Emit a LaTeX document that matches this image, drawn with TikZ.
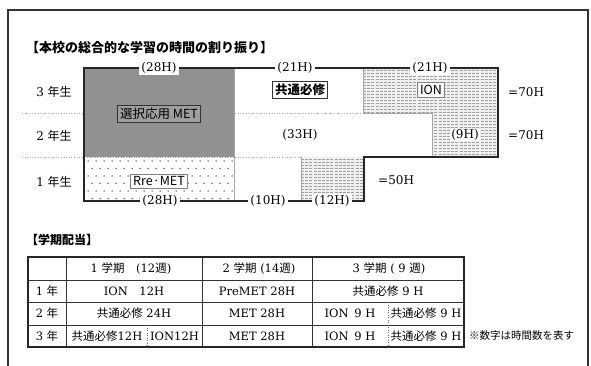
\documentclass[tikz,border=0pt]{standalone}
\usepackage{fontspec}
\setmainfont{DejaVu Serif}
\newfontfamily\jp{Noto Sans CJK JP}
\newcommand\J[1]{{\jp #1}}
\tikzset{
  outl/.style={line width=1.4pt, black!85},
  thin/.style={line width=0.4pt, gray!70},
  sep/.style={line width=0.6pt, gray!70, dotted},
  lbl/.style={fill=white, inner sep=2pt, font=\fontsize{12}{13}\selectfont},
  plain/.style={inner sep=1pt, font=\fontsize{12}{13}\selectfont},
  tagbox/.style={draw=black!80, line width=0.6pt, inner sep=2.5pt, font=\jp\fontsize{12.5}{13}\selectfont},
  rowlab/.style={inner sep=0pt, font=\fontsize{12}{13}\selectfont},
  cell/.style={inner sep=0pt, font=\fontsize{11.5}{12}\selectfont},
  tline/.style={line width=0.5pt, black!80},
  tdot/.style={line width=0.5pt, black!60, dotted},
}
\begin{document}
\begin{tikzpicture}[x=1pt,y=-1pt]
\useasboundingbox (0,0) rectangle (591,366);
\clip (0,0) rectangle (591,366);
\fill[white] (0,0) rectangle (591,366);
\draw[line width=1.2pt, black!80] (8,10) rectangle (588,420);

% title
\node[anchor=west, inner sep=0pt, font=\jp\bfseries\fontsize{13}{14}\selectfont] (title) at (26,48) {【本校の総合的な学習の時間の割り振り】};

% row labels
\node[rowlab] (r3) at (54,92) {3 \J{年生}};
\node[rowlab] (r2) at (54,136) {2 \J{年生}};
\node[rowlab] (r1) at (54,182) {1 \J{年生}};

% separators
\draw[sep] (22,113) -- (363,113);
\draw[sep] (22,157) -- (301,157);

% MET gray block
\fill[black!43] (84,68) rectangle (234,157);
% PreMET dotted block
\begin{scope}
\clip (84,157) rectangle (234,201);
\foreach \r in {0,2,4} \foreach \c in {0,...,19} \fill[black!70] (88+\c*8, 161+\r*7.5) circle (0.75pt);
\foreach \r in {1,3,5} \foreach \c in {0,...,19} \fill[black!70] (92+\c*8, 161+\r*7.5) circle (0.75pt);
\end{scope}
\draw[thin] (234,68) -- (234,201);

% ION hatch
\begin{scope}
\clip (363,68) -- (498,68) -- (498,157) -- (432,157) -- (432,113) -- (363,113) -- cycle;
\fill[gray!12] (363,68) rectangle (498,157);
\foreach \y in {70,73,...,157} \draw[gray!75, line width=0.5pt, dash pattern=on 3pt off 1.2pt] (363,\y) -- (498,\y);
\end{scope}
\draw[thin] (363,68) -- (363,113) -- (432,113) -- (432,157);
% 12H hatch
\begin{scope}
\clip (301,157) rectangle (364,201);
\fill[gray!12] (301,157) rectangle (364,201);
\foreach \y in {159,162,...,201} \draw[gray!75, line width=0.5pt, dash pattern=on 3pt off 1.2pt] (301,\y) -- (364,\y);
\end{scope}
\draw[thin] (301,157) -- (301,201);

% outline
\draw[outl] (84,68) -- (498,68) -- (498,157) -- (364,157) -- (364,201) -- (84,201) -- cycle;

% line labels
\node[lbl] (t28) at (159,68) {(28H)};
\node[lbl] (t21a) at (295,68) {(21H)};
\node[lbl] (t21b) at (430,68) {(21H)};
\node[lbl] (b28) at (160,201) {(28H)};
\node[lbl] (b10) at (268,201) {(10H)};
\node[lbl] (b12) at (332,201) {(12H)};
\node[plain] (m33) at (300,135) {(33H)};
\node[lbl, inner sep=1pt] (m9) at (465,135) {(9H)};
\node[plain, anchor=west] (e70a) at (507,92) {=70H};
\node[plain, anchor=west] (e70b) at (507,135) {=70H};
\node[plain, anchor=west] (e50) at (377,180) {=50H};

% boxes
\node[tagbox, fill=black!38] (met) at (159,114) {選択応用 MET};
\node[tagbox, fill=white, font=\jp\bfseries\fontsize{12.5}{13}\selectfont] (kyo) at (300,90) {共通必修};
\node[tagbox, fill=white, fill opacity=0.8, text opacity=1, draw=gray] (ion) at (431,90) {ION};
\node[tagbox, fill=white, draw=gray] (pre) at (159,181) {Rre·MET};

% table title
\node[anchor=west, inner sep=0pt, font=\jp\bfseries\fontsize{12}{13}\selectfont] (ttitle) at (26,240) {【学期配当】};

% table
\draw[tline] (66,257) -- (66,347);
\draw[tline] (202,257) -- (202,347);
\draw[tline] (312,257) -- (312,347);
\draw[tline] (28,280) -- (464,280);
\draw[tline] (28,302) -- (464,302);
\draw[tline] (28,325) -- (464,325);
\draw[tdot] (147,325) -- (147,347);
\draw[tdot] (388,302) -- (388,347);
\draw[line width=1.2pt, black!85] (28,257) rectangle (464,347);

\node[cell] (h1) at (131,268.5) {1 \J{学期　}(12\J{週})};
\node[cell] (h2) at (259,268.5) {2 \J{学期} (14\J{週})};
\node[cell] (h3) at (389,268.5) {3 \J{学期} ( 9 \J{週})};

\node[cell] (y1) at (47,291) {1 \J{年}};
\node[cell] (c11) at (134,291) {ION\quad 12H};
\node[cell] (c12) at (257,291) {PreMET 28H};
\node[cell] (c13) at (388,291) {\J{共通必修} 9 H};

\node[cell] (y2) at (47,313.5) {2 \J{年}};
\node[cell] (c21) at (134,313.5) {\J{共通必修} 24H};
\node[cell] (c22) at (257,313.5) {MET 28H};
\node[cell] (c23) at (350,313.5) {ION\enspace 9 H};
\node[cell] (c24) at (426,313.5) {\J{共通必修} 9 H};

\node[cell] (y3) at (47,336) {3 \J{年}};
\node[cell] (c31) at (107,336) {\J{共通必修}12H};
\node[cell] (c32) at (174.5,336) {ION12H};
\node[cell] (c33) at (257,336) {MET 28H};
\node[cell] (c34) at (350,336) {ION\enspace 9 H};
\node[cell] (c35) at (426,336) {\J{共通必修} 9 H};

\node[anchor=west, inner sep=0pt, font=\jp\fontsize{10.5}{11}\selectfont] (note) at (469,336) {※数字は時間数を表す};
\end{tikzpicture}
\end{document}
